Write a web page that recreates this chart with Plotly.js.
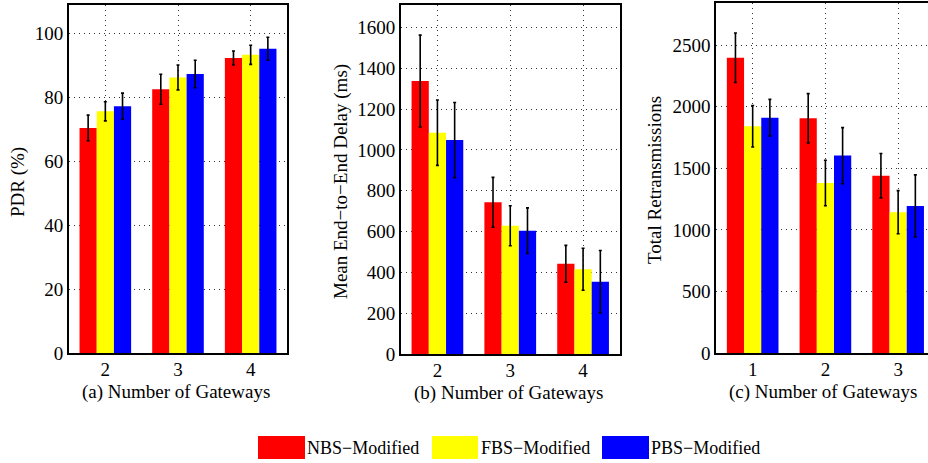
<!DOCTYPE html>
<html>
<head>
<meta charset="utf-8">
<script src="https://cdn.plot.ly/plotly-3.0.1.min.js"></script>
<style>
html,body{margin:0;padding:0;overflow:hidden;background:#fff;}
#chart{width:940px;height:463px;}
</style>
</head>
<body>
<div id="chart"></div>
<script>
// ---- data ----
const seriesNames = ["NBS\u2212Modified", "FBS\u2212Modified", "PBS\u2212Modified"];
const seriesColors = ["#ff0000", "#ffff00", "#0000ff"];

const gatewaysA = [2, 3, 4];
const pdrNBS = [70.5, 82.6, 92.4];
const pdrFBS = [75.7, 86.3, 93.4];
const pdrPBS = [77.3, 87.4, 95.3];
const pdrNBSErr = [4.0, 4.7, 2.2];
const pdrFBSErr = [3.0, 3.9, 3.0];
const pdrPBSErr = [4.1, 4.3, 3.6];

const gatewaysB = [2, 3, 4];
const delayNBS = [1337, 743, 442];
const delayFBS = [1084, 628, 415];
const delayPBS = [1048, 604, 354];
const delayNBSErr = [225, 122, 90];
const delayFBSErr = [160, 98, 103];
const delayPBSErr = [184, 112, 153];

const gatewaysC = [1, 2, 3];
const retxNBS = [2397, 1906, 1440];
const retxFBS = [1841, 1381, 1144];
const retxPBS = [1911, 1603, 1195];
const retxNBSErr = [200, 200, 180];
const retxFBSErr = [168, 185, 175];
const retxPBSErr = [148, 227, 252];

const ticksA = [2, 3, 4];
const ticksB = [2, 3, 4];
const ticksC = [1, 2, 3];
const yTicksA = [0, 20, 40, 60, 80, 100];
const yTicksB = [0, 200, 400, 600, 800, 1000, 1200, 1400, 1600];
const yTicksC = [0, 500, 1000, 1500, 2000, 2500];

// ---- layout helpers ----
const W = 940, H = 463;
const px = v => v / W;
const py = v => (H - v) / H;
const font = "Liberation Serif, Times New Roman, serif";

function bars(x, ys, errs, xa, ya) {
  return ys.map((y, i) => ({
    type: "bar", x: x, y: y, name: seriesNames[i],
    xaxis: xa, yaxis: ya, showlegend: false,
    marker: {color: seriesColors[i], line: {width: 0}},
    error_y: {type: "data", array: errs[i], visible: true, color: "#000", thickness: 1.6, width: 1.5},
    hoverinfo: "x+y"
  }));
}

const traces = [].concat(
  bars(gatewaysA, [pdrNBS, pdrFBS, pdrPBS], [pdrNBSErr, pdrFBSErr, pdrPBSErr], "x", "y"),
  bars(gatewaysB, [delayNBS, delayFBS, delayPBS], [delayNBSErr, delayFBSErr, delayPBSErr], "x2", "y2"),
  bars(gatewaysC, [retxNBS, retxFBS, retxPBS], [retxNBSErr, retxFBSErr, retxPBSErr], "x3", "y3")
);

function axis(dom, range, ticks, anchor, isX) {
  const a = {
    domain: dom, range: range, anchor: anchor,
    tickvals: ticks, ticktext: ticks.map(String),
    showline: true, linecolor: "#000", linewidth: 2, mirror: true,
    showgrid: true, gridcolor: "#333", gridwidth: 1, griddash: "1px,4px",
    zeroline: false, ticks: "", tickfont: {family: font, size: 19, color: "#000"},
    fixedrange: true
  };
  if (isX) a.ticklabelstandoff = -2;
  return a;
}

const annFont = {family: font, size: 19, color: "#000"};
const legFont = {family: font, size: 18, color: "#000"};
function ann(text, x, y, angle) {
  return {text: text, xref: "paper", yref: "paper", x: px(x), y: py(y),
    xanchor: "center", yanchor: "middle", showarrow: false, font: annFont, textangle: angle || 0};
}
function legText(text, x, y) {
  return {text: text, xref: "paper", yref: "paper", x: px(x), y: py(y),
    xanchor: "left", yanchor: "middle", showarrow: false, font: legFont};
}
function swatch(x0, x1, color) {
  return {type: "rect", xref: "paper", yref: "paper", x0: px(x0), x1: px(x1), y0: py(459), y1: py(436),
    fillcolor: color, line: {width: 0}};
}

const layout = {
  width: W, height: H, autosize: false,
  margin: {l: 0, r: 0, t: 0, b: 0},
  paper_bgcolor: "#fff", plot_bgcolor: "#fff",
  barmode: "group", bargap: 0.29, bargroupgap: 0,
  showlegend: false,
  xaxis: axis([px(69), px(287)], [1.5, 4.5], ticksA, "y", true),
  yaxis: axis([py(353), py(5)], [0, 109], yTicksA, "x"),
  xaxis2: axis([px(401), px(619.5)], [1.5, 4.5], ticksB, "y2", true),
  yaxis2: axis([py(354), py(4.7)], [0, 1711], yTicksB, "x2"),
  xaxis3: axis([px(716.3), px(934.5)], [0.5, 3.5], ticksC, "y3", true),
  yaxis3: axis([py(353.3), py(2.7)], [0, 2843], yTicksC, "x3"),
  annotations: [
    ann("PDR (%)", 18, 182, -90),
    ann("Mean End\u2212to\u2212End Delay (ms)", 341, 182, -90),
    ann("Total Retransmissions", 655, 180, -90),
    ann("(a) Number of Gateways", 176, 392),
    ann("(b) Number of Gateways", 508, 393),
    ann("(c) Number of Gateways", 823, 392),
    legText(seriesNames[0], 305, 448),
    legText(seriesNames[1], 479, 448),
    legText(seriesNames[2], 649, 448)
  ],
  shapes: [
    swatch(258, 305, seriesColors[0]),
    swatch(432, 478, seriesColors[1]),
    swatch(602, 649, seriesColors[2])
  ]
};

Plotly.newPlot("chart", traces, layout, {displayModeBar: false, staticPlot: true});
</script>
</body>
</html>
